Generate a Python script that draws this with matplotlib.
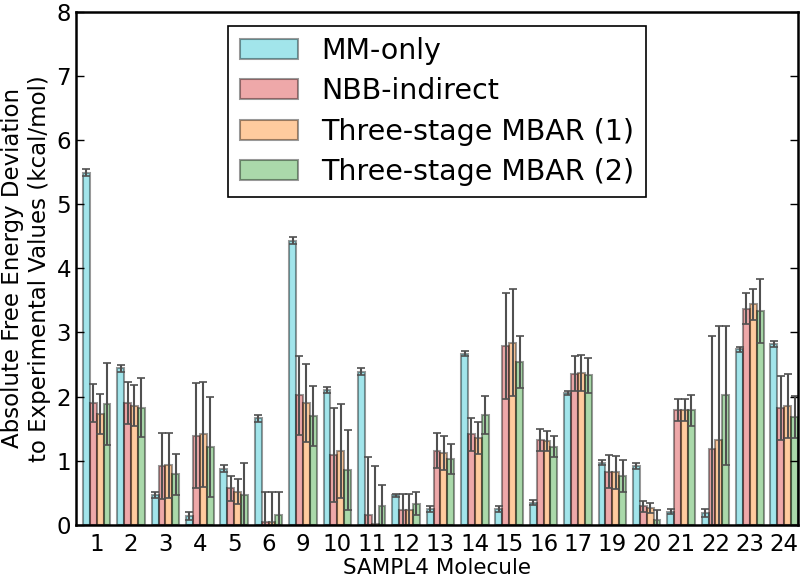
import numpy as np
import matplotlib
matplotlib.use("Agg")
import matplotlib.pyplot as plt

# SAMPL4 molecules on the x axis
molecules = ["1", "2", "3", "4", "5", "6", "9", "10", "11", "12", "13", "14",
             "15", "16", "17", "19", "20", "21", "22", "23", "24"]

# absolute deviation (kcal/mol) and uncertainties
mm_only = [5.49, 2.44, 0.47, 0.14, 0.88, 1.66, 4.43, 2.10, 2.39, 0.46, 0.25,
           2.67, 0.25, 0.35, 2.05, 0.97, 0.92, 0.21, 0.19, 2.74, 2.82]
mm_only_err = [0.05, 0.05, 0.05, 0.06, 0.05, 0.05, 0.06, 0.05, 0.05, 0.03, 0.04,
               0.04, 0.04, 0.04, 0.03, 0.04, 0.04, 0.04, 0.06, 0.04, 0.04]

nbb = [1.90, 1.90, 0.92, 1.39, 0.57, 0.04, 2.02, 1.09, 0.16, 0.24, 1.16,
       1.41, 2.79, 1.33, 2.36, 0.83, 0.29, 1.79, 1.18, 3.37, 1.82]
nbb_err = [0.30, 0.32, 0.51, 0.82, 0.19, 0.47, 0.62, 0.73, 0.90, 0.25, 0.27,
           0.25, 0.83, 0.17, 0.28, 0.26, 0.08, 0.17, 1.77, 0.24, 0.50]

mbar1 = [1.73, 1.86, 0.93, 1.41, 0.52, 0.04, 1.90, 1.15, 0.02, 0.23, 1.12,
         1.36, 2.84, 1.31, 2.37, 0.82, 0.27, 1.79, 1.33, 3.44, 1.85]
mbar1_err = [0.31, 0.32, 0.51, 0.82, 0.19, 0.47, 0.61, 0.73, 0.90, 0.25, 0.27,
             0.25, 0.83, 0.16, 0.28, 0.26, 0.08, 0.17, 1.77, 0.24, 0.50]

mbar2 = [1.89, 1.83, 0.79, 1.21, 0.46, 0.15, 1.70, 0.86, 0.30, 0.33, 1.03,
         1.71, 2.54, 1.22, 2.33, 0.76, 0.07, 1.79, 2.02, 3.33, 1.68]
mbar2_err = [0.64, 0.46, 0.32, 0.78, 0.51, 0.36, 0.47, 0.62, 0.33, 0.18, 0.23,
             0.30, 0.40, 0.16, 0.27, 0.25, 0.17, 0.24, 1.08, 0.50, 0.33]

labels = ["MM-only", "NBB-indirect", "Three-stage MBAR (1)", "Three-stage MBAR (2)"]
colors = ["tab:cyan", "tab:red", "tab:orange", "tab:green"]

fig = plt.figure(figsize=(8, 5.81), dpi=100)
ax = fig.add_axes([0.095, 0.0964, 0.9025, 0.8838])

ind = np.arange(len(molecules))
width = 0.2
series = [(mm_only, mm_only_err), (nbb, nbb_err), (mbar1, mbar1_err), (mbar2, mbar2_err)]
for k, (vals, errs) in enumerate(series):
    ax.bar(ind + width * (k + 1), vals, width, align="edge", yerr=errs,
           color=colors[k], alpha=0.4, edgecolor="black", linewidth=1.5,
           label=labels[k],
           error_kw=dict(ecolor="#505050", elinewidth=1.5, capsize=3, capthick=1.2))

ax.set_xlim(0, len(molecules))
ax.set_ylim(0, 8)
ax.set_xticks(ind + 0.6)
ax.set_xticklabels(molecules)
ax.set_yticks(range(0, 9))
ax.tick_params(axis="both", direction="in", labelsize=16.5, top=False, right=True,
               length=6, width=1)
ax.tick_params(axis="x", length=0, pad=6)
for s in ax.spines.values():
    s.set_linewidth(1.8)

ax.set_xlabel("SAMPL4 Molecule", fontsize=15.5, labelpad=1)
ax.set_ylabel("Absolute Free Energy Deviation\nto Experimental Values (kcal/mol)",
              fontsize=16.5, labelpad=4)

leg = ax.legend(loc="upper center", fontsize=20.5, handlelength=2.05, handleheight=0.7,
                handletextpad=0.8, labelspacing=0.43, fancybox=False,
                framealpha=1, borderpad=0.4)
leg.get_frame().set_edgecolor("black")
leg.get_frame().set_linewidth(1.2)

fig.savefig("out.png", dpi=100)
